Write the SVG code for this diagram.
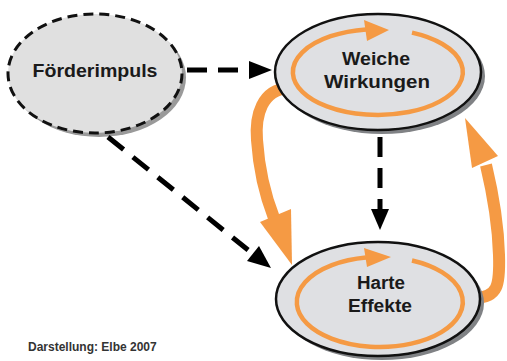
<svg xmlns="http://www.w3.org/2000/svg" width="507" height="361" viewBox="0 0 507 361">
<style>
.lbl{font-family:"Liberation Sans",Arial,sans-serif;font-weight:bold;font-size:18px;fill:#1a1a1a;text-anchor:middle}
.cap{font-family:"Liberation Sans",Arial,sans-serif;font-weight:bold;font-size:12px;fill:#333}
.shadow{fill:#808285}
.node{fill:#dfe0e3;stroke:#111;stroke-width:2.5}
.ring{fill:none;stroke:#F59A44;stroke-width:4.5}
.ringhead{fill:#F59A44}
.big{fill:none;stroke:#F59A44;stroke-width:12;stroke-linecap:butt}
.bighead{fill:#F59A44}
.dash{stroke:#000;stroke-width:5;stroke-dasharray:20 11;fill:none}
.head{fill:#000}
</style>
<rect width="507" height="361" fill="#fff"/>
<g id="feedback">
<path class="big" d="M 288 88 C 262 90, 255 115, 257 140 C 259 170, 265 195, 274 218"/>
<polygon class="bighead" points="260,222 291,209 292,265"/>
<path class="big" d="M 474 298 C 498 298, 500 285, 499 255 C 498 220, 492 190, 486 165"/>
<polygon class="bighead" points="465,118 472,168 498,156"/>
</g>
<g id="foerderimpuls">
<ellipse cx="99" cy="77.5" rx="87" ry="59.5" fill="#9a9a9a"/>
<ellipse cx="95" cy="73.5" rx="87" ry="59.5" fill="#e0e0e0" stroke="#111" stroke-width="3" stroke-dasharray="10 6"/>
<text class="lbl" x="95" y="77" textLength="125" lengthAdjust="spacingAndGlyphs">Förderimpuls</text>
</g>
<g id="weiche">
<ellipse class="shadow" cx="382" cy="76" rx="103" ry="58"/>
<ellipse class="node" cx="378" cy="72" rx="103" ry="58"/>
<path class="ring" d="M 412 32.6 A 85 43 0 1 1 366 29.4"/>
<polygon class="ringhead" points="364,20 367,41 389,30"/>
<text class="lbl" x="376" y="65" textLength="68" lengthAdjust="spacingAndGlyphs">Weiche</text>
<text class="lbl" x="377" y="88" textLength="106" lengthAdjust="spacingAndGlyphs">Wirkungen</text>
</g>
<g id="harte">
<ellipse class="shadow" cx="382" cy="303" rx="102" ry="57"/>
<ellipse class="node" cx="378" cy="299" rx="102" ry="57"/>
<path class="ring" d="M 412 260.5 A 83 45 0 1 1 366 257.6"/>
<polygon class="ringhead" points="364,248 367,267 391,257"/>
<text class="lbl" x="381" y="289" textLength="48" lengthAdjust="spacingAndGlyphs">Harte</text>
<text class="lbl" x="380" y="312" textLength="64" lengthAdjust="spacingAndGlyphs">Effekte</text>
</g>
<g id="connectors">
<line class="dash" x1="187" y1="70" x2="240" y2="70"/>
<polygon class="head" points="249,61 272,70 249,79"/>
<line class="dash" x1="380" y1="137" x2="380" y2="212"/>
<polygon class="head" points="371,209 389,209 380,230"/>
<path class="dash" d="M 108 137 L 253 254" style="stroke-dasharray:20 12"/>
<polygon class="head" points="247,261 259,246 271,268"/>
</g>
<text class="cap" x="28" y="351">Darstellung: Elbe 2007</text>
</svg>
